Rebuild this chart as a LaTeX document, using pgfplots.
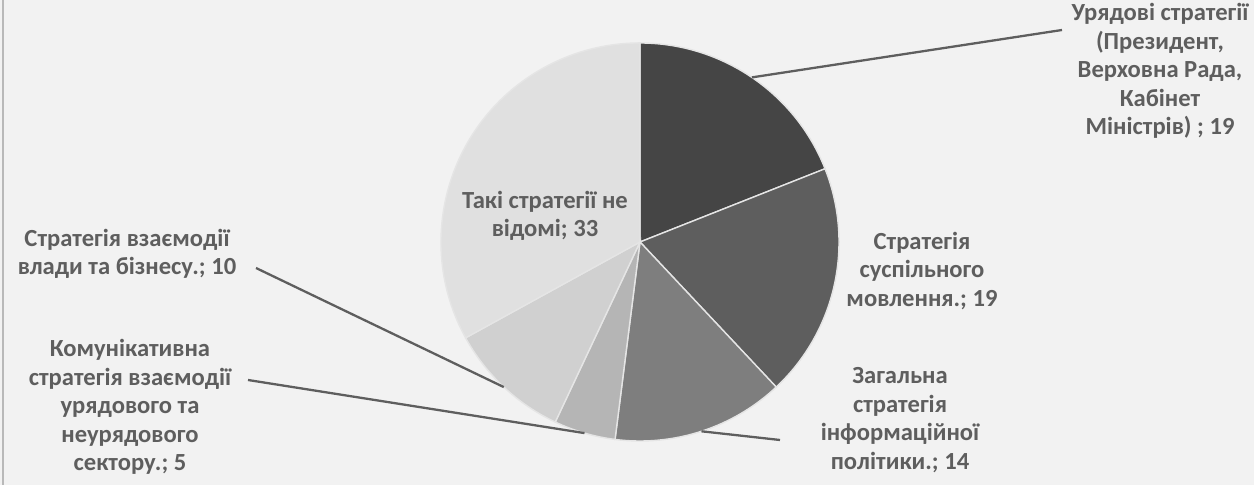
\documentclass[border=0pt]{standalone}
\usepackage{pgfplots}
\pgfplotsset{compat=1.18}
\usepackage{fontspec}
\setmainfont{Carlito}
\definecolor{bg}{HTML}{F2F2F2}
\definecolor{txt}{HTML}{5E5E5E}
\definecolor{s1}{HTML}{454545}
\definecolor{s2}{HTML}{5E5E5E}
\definecolor{s3}{HTML}{7E7E7E}
\definecolor{s4}{HTML}{B5B5B5}
\definecolor{s5}{HTML}{D0D0D0}
\definecolor{s6}{HTML}{E0E0E0}
\def\cx{640}\def\cy{243}\def\R{199}
\begin{document}
\begin{tikzpicture}
\begin{axis}[
  scale only axis, width=25.08cm, height=9.7cm,
  xmin=0, xmax=1254, ymin=0, ymax=485,
  hide axis, clip=false,
]
\fill[bg] (axis cs:0,0) rectangle (axis cs:1254,485);
\draw[gray!55, line width=1.2pt] (axis cs:3,0) -- (axis cs:3,485);
\xdef\angA{90}
\foreach \v/\c in {19/s1,19/s2,14/s3,5/s4,10/s5,33/s6}{
  \pgfmathsetmacro\angB{\angA-3.6*\v}
  \edef\tmp{\noexpand\fill[\c, draw=white!80!gray, line width=0.8pt] (axis cs:\cx,\cy) -- (axis cs:{\cx+\R*cos(\angA)},{\cy+\R*sin(\angA)}) arc[start angle=\angA, end angle=\angB, radius=\R*0.02cm] -- cycle;}
  \tmp
  \xdef\angA{\angB}
}
\begin{scope}[txt, line width=1.3pt]
\draw (axis cs:751.9,407.6) -- (axis cs:1062,455);
\draw (axis cs:701.5,53.7) -- (axis cs:780,45);
\draw (axis cs:584.5,51.9) -- (axis cs:248,105);
\draw (axis cs:503.8,97.9) -- (axis cs:256,217);
\end{scope}
\tikzset{lbl/.style={text=txt, font=\fontsize{14}{16.2}\selectfont\bfseries, align=center, inner sep=0pt}}
\node[lbl] at (axis cs:1160,414) {Урядові стратегії\\(Президент,\\Верховна Рада,\\Кабінет\\Міністрів) ; 19};
\node[lbl] at (axis cs:922,214) {Стратегія\\суспільного\\мовлення.; 19};
\node[lbl] at (axis cs:900,65) {Загальна\\стратегія\\інформаційної\\політики.; 14};
\node[lbl] at (axis cs:127,231) {Стратегія взаємодії\\влади та бізнесу.; 10};
\node[lbl] at (axis cs:130,78) {Комунікативна\\стратегія взаємодії\\урядового та\\неурядового\\сектору.; 5};
\node[lbl] at (axis cs:545,269) {Такі стратегії не\\відомі; 33};
\end{axis}
\pgfresetboundingbox
\path (current axis.south west) rectangle (current axis.north east);
\end{tikzpicture}
\end{document}
